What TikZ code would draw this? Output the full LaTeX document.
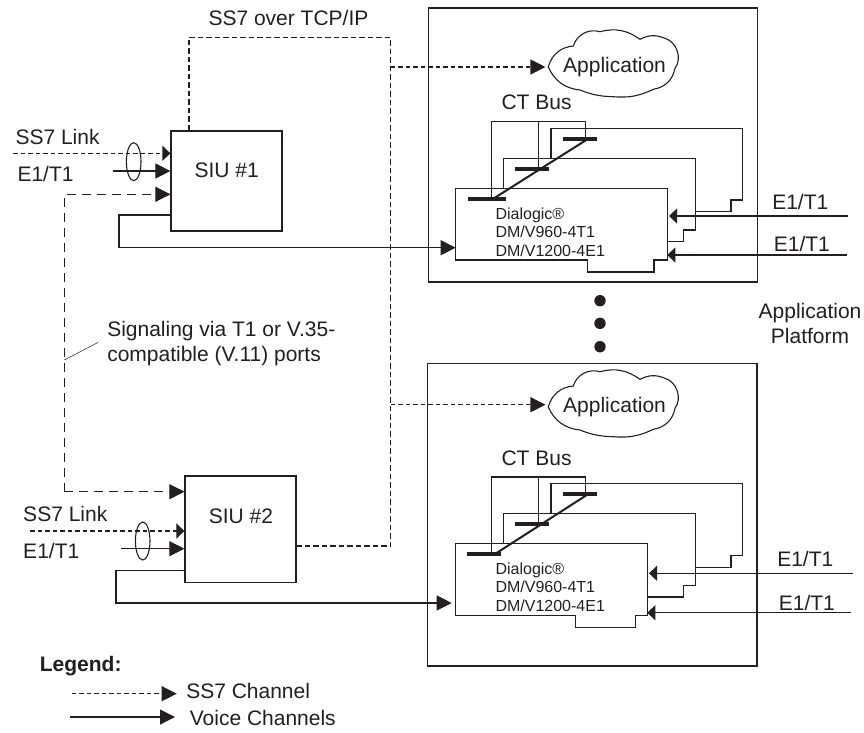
\documentclass[tikz,border=0pt]{standalone}
\usepackage{fontspec}
\setmainfont{Liberation Sans}
\usetikzlibrary{shapes.geometric, arrows.meta, positioning, calc}
\definecolor{ink}{HTML}{231F20}
\newcommand{\appcloud}[1]{\draw[shift={(#1.center)}, shift={(-2.5,-3)}] (-63.7,3) to[bend left=35] (-38.7,-18) to[bend left=45] (-12,-32.3) to[bend left=25] (28,-24.7) to[bend left=25] (53,-25.7) to[bend left=55] (63,4.3) to[bend left=35] (41.3,25.3) to[bend left=15] (1.3,32.7) to[bend left=10] (-32,26) to[bend left=30] cycle;}

\begin{document}
\begin{tikzpicture}[
  x=1pt, y=-1pt, color=ink, line width=1.1pt,
  lbl/.style={anchor=base west, inner sep=0pt, font=\fontsize{21}{25}\selectfont},
  cardtxt/.style={anchor=west, align=left, inner sep=0pt, font=\fontsize{16}{18.7}\selectfont},
  platform/.style={rectangle, draw, line width=1.3pt, minimum width=329.5pt, inner sep=0pt},
  siu/.style={rectangle, draw, line width=1.2pt, minimum width=111pt, minimum height=100pt, inner sep=0pt},
  app/.style={rectangle, minimum width=137pt, minimum height=64pt, inner sep=0pt, font=\fontsize{21}{25}\selectfont},
  arr/.style={-{Triangle[length=15pt, width=15pt]}},
  arrshort/.style={-{Triangle[length=8pt, width=15pt]}},
  ss7/.style={dash pattern=on 4.5pt off 3pt},
  tcpline/.style={dash pattern=on 5.5pt off 3pt},
  sig/.style={dash pattern=on 9pt off 6pt},
  bar/.style={line width=4pt},
  diag/.style={line width=2pt},
  oval/.style={ellipse, draw, minimum width=14.6pt, minimum height=38pt, inner sep=0pt},
  dot/.style={circle, fill, minimum size=11.4pt, inner sep=0pt},
]
\useasboundingbox (0,0) rectangle (864,732);

% platforms
\node[platform, minimum height=274pt] (plat1) at (593,145) {};
\node[platform, minimum height=302.5pt] (plat2) at (592.2,514.7) {};
\node[app] (app1) at (614.5,67) {Application};
\node[app] (app2) at (614.5,407) {Application};
\appcloud{app1}
\appcloud{app2}
\node[dot] (dot1) at (600,300.7) {};
\node[dot] (dot2) at (600,323.3) {};
\node[dot] (dot3) at (600,346.7) {};

% SIU boxes
\node[siu] (siu1) at (226.5,181) {};
\node[siu, minimum height=106.7pt] (siu2) at (240.5,529.3) {};
\node[lbl] (siu1txt) at (194,177.3) {SIU \#1};
\node[lbl] (siu2txt) at (208.3,523.7) {SIU \#2};
\node[oval] (oval1) at (133.7,161.7) {};
\node[oval] (oval2) at (142.7,541) {};

% labels
\node[lbl] (tcp) at (208,25) {SS7 over TCP/IP};
\node[lbl] (link1) at (15,144) {SS7 Link};
\node[lbl] (e1a) at (17,181.7) {E1/T1};
\node[lbl] (link2) at (22.7,521.7) {SS7 Link};
\node[lbl] (e1b) at (22.7,558) {E1/T1};
\node[lbl] (bus1) at (501,109) {CT Bus};
\node[lbl] (bus2) at (501,465) {CT Bus};
\node[lbl] (e1c) at (771.7,209) {E1/T1};
\node[lbl] (e1d) at (773.3,251.7) {E1/T1};
\node[lbl] (e1e) at (776.7,566) {E1/T1};
\node[lbl] (e1f) at (778.3,610.3) {E1/T1};
\node[lbl, anchor=center, align=center] (appplat) at (810,323) {Application\\Platform};
\node[lbl, anchor=west, align=left] (signote) at (106.7,344) {Signaling via T1 or V.35-\\compatible (V.11) ports};
\node[cardtxt] (card1txt) at (495,232) {Dialogic®\\DM/V960-4T1\\DM/V1200-4E1};
\node[cardtxt] (card2txt) at (495,587) {Dialogic®\\DM/V960-4T1\\DM/V1200-4E1};

% upper card stack
\draw (455.7,188.3) -- (667.3,188.3) -- (667.3,260) -- (654,260) -- (654,272) -- (587.7,272) -- (587.7,260) -- (455.7,260) -- cycle;
\draw (503.3,188.3) |- (695.3,158.3) |- (683.3,230) |- (667.3,241.7);
\draw (551,158.3) |- (742.7,128.3) |- (731,200) |- (695.3,211.7);
\draw (491.7,198.7) |- (585.7,121.7) -- (585.7,138.7);
\draw (538.3,121.7) -- (538.3,169);
\draw[bar] (468.3,198.7) -- (505.7,198.7);
\draw[bar] (515,169) -- (549,169);
\draw[bar] (563.3,138.7) -- (597,138.7);
\draw[diag] (493.3,198.7) -- (588.3,138.7);

% lower card stack
\draw (455.7,543.3) -- (647.3,543.3) -- (647.3,615.3) -- (635.7,615.3) -- (635.7,627.3) -- (575.3,627.3) -- (575.3,615.3) -- (455.7,615.3) -- cycle;
\draw (503.3,543.3) |- (695.3,513.3) |- (683.3,585.3) |- (647.3,597);
\draw (551,513.3) |- (742.7,483.7) |- (731,555.3) |- (695.3,567.7);
\draw (491.7,554) |- (585.7,477) -- (585.7,494);
\draw (538.3,477) -- (538.3,523.7);
\draw[bar] (467.3,554) -- (501,554);
\draw[bar] (515,523.7) -- (549,523.7);
\draw[bar] (563.3,494) -- (597,494);
\draw[diag] (495,554) -- (588.3,494);

% free ends of the connectors
\coordinate (ss7a) at (13.3,153.3);
\coordinate (e1ain) at (113.3,171);
\coordinate (ss7b) at (30,531);
\coordinate (e1bin) at (121,548.7);
\coordinate (sigtop) at (64.3,194.3);
\coordinate (sigbot) at (64.3,491.7);
\coordinate (tcpcor) at (390.7,37.3);
\coordinate (tcpa) at (390.7,67);
\coordinate (tcpb) at (390.7,404.7);
\coordinate (tcpc) at (390.7,546);
\coordinate (card1a) at (455.7,247.7);
\coordinate (card2a) at (451.7,603);
\coordinate (e1cin) at (848.3,216);
\coordinate (e1dout) at (669,216);
\coordinate (e1din) at (846.7,255);
\coordinate (e1dend) at (667.3,255);
\coordinate (e1ein) at (853.3,573.3);
\coordinate (e1eend) at (649,573.3);
\coordinate (e1fin) at (851,612.7);
\coordinate (e1fend) at (647.3,612.7);
\coordinate (leadera) at (64.3,360);
\coordinate (leaderb) at (98.3,342.3);

% connectors
\draw[ss7, arrshort] (ss7a) -- (ss7a -| siu1.west);
\draw[arr] (e1ain) -- (e1ain -| siu1.west);
\draw[sig, arr] (sigbot) -- (sigtop) -- (sigtop -| siu1.west);
\draw[sig, arr] (sigbot) -- (sigbot -| siu2.west);
\draw[ss7, arrshort] (ss7b) -- (ss7b -| siu2.west);
\draw[arr] (e1bin) -- (e1bin -| siu2.west);
\draw[tcpline] (siu1.north west -| 189,0) -- (189,37.3) -- (tcpcor) -- (tcpc) -- (tcpc -| siu2.east);
\draw[ss7, arr] (tcpa) -- (tcpa -| app1.west);
\draw[ss7, arr] (tcpb) -- (tcpb -| app2.west);
\draw[arr] ($(siu1.west |- 0,215)$) -- (119,215) |- (card1a);
\draw[arr] ($(siu2.west |- 0,570.3)$) -- (116,570.3) |- (card2a);
\draw[arrshort] (e1cin) -- (e1dout);
\draw[arrshort] (e1din) -- (e1dend);
\draw[arrshort] (e1ein) -- (e1eend);
\draw[arrshort] (e1fin) -- (e1fend);
\draw[line width=0.5pt] (leadera) -- (leaderb);

% legend
\node[lbl, font=\fontsize{21}{25}\selectfont\bfseries] (legend) at (39.3,671.7) {Legend:};
\node[lbl] (legss7) at (185.7,698.7) {SS7 Channel};
\node[lbl] (legvoice) at (189.3,725.3) {Voice Channels};
\coordinate (legssa) at (71.7,693.7);
\coordinate (legssb) at (176.7,693.7);
\coordinate (legvoa) at (70.3,717);
\coordinate (legvob) at (175,717);
\draw[ss7, arr] (legssa) -- (legssb);
\draw[arr] (legvoa) -- (legvob);
\end{tikzpicture}
\end{document}
